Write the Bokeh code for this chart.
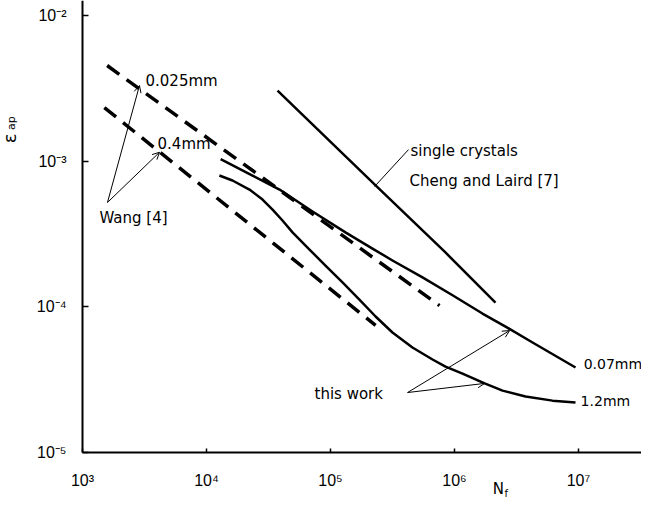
import math
from bokeh.plotting import figure
from bokeh.models import Range1d, FixedTicker, Arrow, OpenHead, Label, CustomJSTickFormatter
from bokeh.embed import file_html
from bokeh.resources import INLINE

# ---- data ----
wang_025_N = [1.58e3, 7.57e5]
wang_025_e = [4.53e-3, 1.02e-4]
wang_04_N = [1.50e3, 2.31e5]
wang_04_e = [2.33e-3, 7.45e-5]
cheng_N = [3.74e4, 2.31e5, 8.45e5, 2.14e6]
cheng_e = [3.05e-3, 6.81e-4, 2.36e-4, 1.07e-4]
work_007_N = [1.30e4, 2.35e4, 3.88e4, 7.16e4, 1.32e5, 2.18e5, 3.16e5, 5.52e5, 9.64e5,
              1.68e6, 2.58e6, 4.26e6, 9.46e6]
work_007_e = [1.03e-3, 7.96e-4, 6.38e-4, 4.51e-4, 3.24e-4, 2.51e-4, 2.08e-4, 1.59e-4, 1.20e-4,
              8.99e-5, 7.32e-5, 5.69e-5, 3.83e-5]
work_12_N = [1.27e4, 1.62e4, 2.22e4, 2.83e4, 3.41e4, 4.10e4, 4.94e4, 6.77e4, 9.11e4, 1.25e5,
             1.71e5, 2.31e5, 3.16e5, 4.58e5, 6.65e5, 8.46e5, 1.16e6, 1.75e6, 2.44e6, 3.74e6,
             6.17e6, 9.46e6]
work_12_e = [7.96e-4, 7.36e-4, 6.38e-4, 5.45e-4, 4.65e-4, 3.91e-4, 3.24e-4, 2.47e-4, 1.92e-4,
             1.47e-4, 1.12e-4, 8.58e-5, 6.66e-5, 5.26e-5, 4.35e-5, 3.89e-5, 3.48e-5, 2.98e-5,
             2.66e-5, 2.42e-5, 2.27e-5, 2.20e-5]

x_ticks = [1e3, 1e4, 1e5, 1e6, 1e7]
x_tick_labels = ["10\u00b3", "10\u2074", "10\u2075", "10\u2076", "10\u2077"]
y_ticks = [1e-5, 1e-4, 1e-3, 1e-2]
y_tick_labels = ["10\u207b\u2075", "10\u207b\u2074", "10\u207b\u00b3", "10\u207b\u00b2"]

TICK_FONT = "Liberation Sans"
FONT = "DejaVu Sans"

X_MIN, X_MAX = 10 ** 2.3387, 10 ** 7.508
Y_MIN, Y_MAX = 10 ** -5.3294, 10 ** -1.8977

p = figure(width=641, height=500, x_axis_type="log", y_axis_type="log",
           x_range=Range1d(X_MIN, X_MAX), y_range=Range1d(Y_MIN, Y_MAX),
           output_backend="svg", toolbar_location=None,
           min_border_left=0, min_border_right=0, min_border_top=0, min_border_bottom=0)
p.outline_line_color = None
p.xgrid.visible = False
p.ygrid.visible = False
p.background_fill_color = "white"
p.border_fill_color = "white"

fmt_js = """
for (let i = 0; i < vals.length; i++) {
  if (Math.abs(Math.log10(tick) - Math.log10(vals[i])) < 1e-6) return labs[i];
}
return "";
"""
p.xaxis.ticker = FixedTicker(ticks=x_ticks, minor_ticks=[])
p.yaxis.ticker = FixedTicker(ticks=y_ticks, minor_ticks=[])
p.xaxis.formatter = CustomJSTickFormatter(args=dict(vals=x_ticks, labs=x_tick_labels), code=fmt_js)
p.yaxis.formatter = CustomJSTickFormatter(args=dict(vals=y_ticks, labs=y_tick_labels), code=fmt_js)
p.xaxis.fixed_location = y_ticks[0]
p.yaxis.fixed_location = x_ticks[0]
p.xaxis.bounds = (x_ticks[0], X_MAX)
p.yaxis.bounds = (y_ticks[0], Y_MAX)
for ax in (p.xaxis, p.yaxis):
    ax.axis_line_width = 2
    ax.axis_line_color = "black"
    ax.major_tick_line_color = "black"
    ax.major_tick_line_width = 1.5
    ax.major_tick_out = 0
    ax.minor_tick_line_color = None
    ax.major_label_text_font = TICK_FONT
    ax.major_label_text_font_size = "16px"
    ax.major_label_text_color = "black"
p.xaxis.major_tick_in = 4
p.yaxis.major_tick_in = 6
p.xaxis.major_label_standoff = 19
p.yaxis.major_label_standoff = 16

# curves
dash = "15 9"
p.line(wang_025_N, wang_025_e, line_color="black", line_width=3.5, line_dash=dash)
p.line(wang_04_N, wang_04_e, line_color="black", line_width=3.5, line_dash=dash)
p.line(cheng_N, cheng_e, line_color="black", line_width=2.5)
p.line(work_007_N, work_007_e, line_color="black", line_width=2.5, line_join="round")
p.line(work_12_N, work_12_e, line_color="black", line_width=2.5, line_join="round")

# texts
def lab(x, y, t, size="15px", angle=0.0, align="left", font=FONT):
    p.add_layout(Label(x=x, y=y, text=t, text_font=font, text_font_size=size,
                       text_color="black", text_baseline="middle", text_align=align,
                       angle=angle))

lab(3.22e3, 3.52e-3, "0.025mm")
lab(4.03e3, 1.32e-3, "0.4mm")
lab(1.37e3, 4.10e-4, "Wang [4]")
lab(4.42e5, 1.18e-3, "single crystals")
lab(4.34e5, 7.36e-4, "Cheng and Laird [7]")
lab(1.10e7, 4.08e-5, "0.07mm", size="14px")
lab(1.04e7, 2.24e-5, "1.2mm", size="14px")
lab(7.43e4, 2.54e-5, "this work")

# axis titles
lab(257.8, 1.43e-3, "\u03b5", size="18px", angle=math.pi / 2, align="center")
lab(267.6, 1.82e-3, "ap", size="11px", angle=math.pi / 2, align="center")
lab(2.26e6, 5.66e-6, "N", size="15px", align="center")
lab(2.62e6, 5.24e-6, "f", size="10px", align="center")

# arrows
def arr(x0, y0, x1, y1, head=True):
    p.add_layout(Arrow(x_start=x0, y_start=y0, x_end=x1, y_end=y1, line_width=1,
                       line_color="black",
                       end=OpenHead(size=7, line_width=1, line_color="black") if head else None))

arr(1.59e3, 5.20e-4, 2.88e3, 3.30e-3)
arr(1.59e3, 5.20e-4, 4.18e3, 1.15e-3)
arr(4.26e5, 1.20e-3, 2.27e5, 6.70e-4, head=False)
arr(4.18e5, 2.58e-5, 2.78e6, 6.87e-5)
arr(4.18e5, 2.58e-5, 1.75e6, 2.98e-5)

open("out.html", "w").write(file_html(p, INLINE))
